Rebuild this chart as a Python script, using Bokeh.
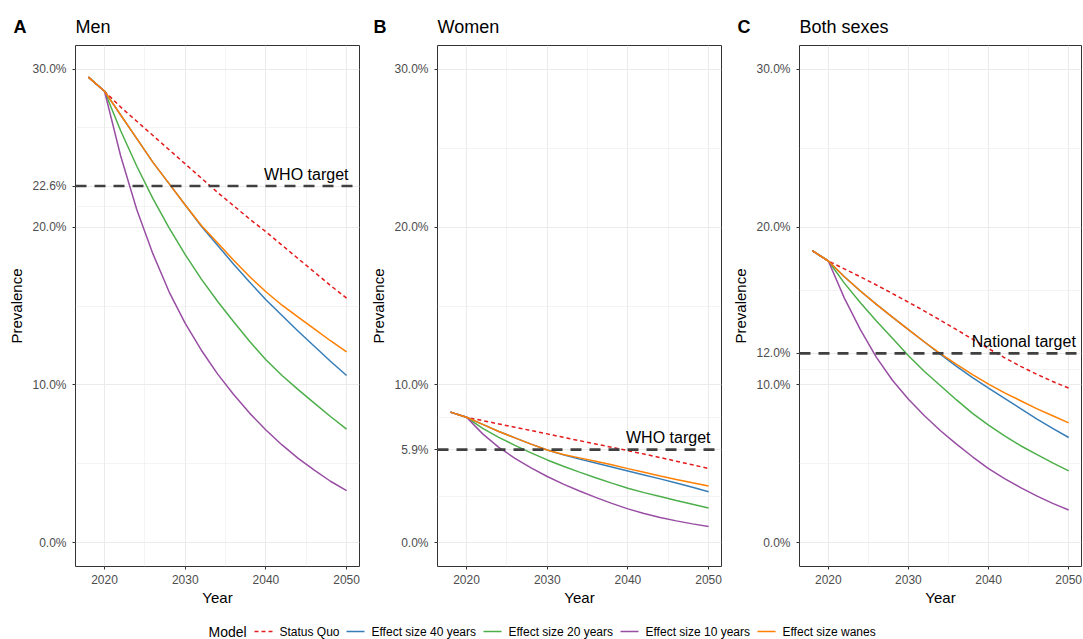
from bokeh.plotting import figure
from bokeh.models import FixedTicker, Span, Label, Range1d
from bokeh.layouts import column, row
from bokeh.embed import file_html
from bokeh.resources import INLINE

# ---------------- data ----------------
years = [2018, 2020, 2022, 2024, 2026, 2028, 2030, 2032, 2034, 2036, 2038, 2040, 2042, 2044, 2046, 2048, 2050]

model_names = ["Status Quo", "Effect size 40 years", "Effect size 20 years", "Effect size 10 years", "Effect size wanes"]

men_status_quo = [29.5, 28.6, 27.6, 26.7, 25.8, 24.9, 24.0, 23.1, 22.2, 21.35, 20.5, 19.7, 18.85, 18.0, 17.15, 16.3, 15.5]
men_40y = [29.5, 28.6, 27.1, 25.6, 24.1, 22.75, 21.4, 20.05, 18.85, 17.65, 16.5, 15.4, 14.4, 13.4, 12.45, 11.5, 10.6]
men_20y = [29.5, 28.6, 26.1, 23.85, 21.8, 19.95, 18.25, 16.7, 15.3, 14.0, 12.75, 11.6, 10.6, 9.7, 8.85, 8.0, 7.2]
men_10y = [29.5, 28.6, 24.5, 21.1, 18.3, 15.9, 13.9, 12.2, 10.7, 9.4, 8.2, 7.15, 6.2, 5.35, 4.6, 3.9, 3.3]
men_wanes = [29.5, 28.6, 27.1, 25.6, 24.1, 22.75, 21.4, 20.1, 19.0, 17.9, 16.85, 15.9, 15.05, 14.3, 13.55, 12.8, 12.1]

women_status_quo = [8.28, 7.95, 7.74, 7.53, 7.32, 7.11, 6.9, 6.68, 6.47, 6.26, 6.05, 5.84, 5.62, 5.4, 5.17, 4.94, 4.71]
women_40y = [8.28, 7.95, 7.5, 7.05, 6.65, 6.25, 5.88, 5.57, 5.3, 5.05, 4.8, 4.55, 4.3, 4.05, 3.79, 3.52, 3.24]
women_20y = [8.28, 7.95, 7.25, 6.68, 6.17, 5.7, 5.25, 4.85, 4.48, 4.12, 3.78, 3.46, 3.18, 2.93, 2.68, 2.44, 2.2]
women_10y = [8.28, 7.95, 6.9, 6.05, 5.35, 4.75, 4.2, 3.72, 3.28, 2.88, 2.5, 2.15, 1.86, 1.6, 1.39, 1.2, 1.03]
women_wanes = [8.28, 7.95, 7.5, 7.05, 6.65, 6.25, 5.88, 5.6, 5.38, 5.16, 4.94, 4.7, 4.47, 4.23, 4.01, 3.8, 3.6]

both_status_quo = [18.5, 17.85, 17.35, 16.85, 16.33, 15.79, 15.24, 14.68, 14.1, 13.5, 12.9, 12.3, 11.72, 11.18, 10.68, 10.22, 9.8]
both_40y = [18.5, 17.85, 16.85, 15.95, 15.1, 14.3, 13.5, 12.72, 11.93, 11.18, 10.47, 9.8, 9.15, 8.5, 7.85, 7.25, 6.67]
both_20y = [18.5, 17.85, 16.45, 15.2, 14.05, 12.95, 11.85, 10.85, 9.95, 9.05, 8.2, 7.45, 6.77, 6.15, 5.6, 5.06, 4.56]
both_10y = [18.5, 17.85, 15.5, 13.5, 11.75, 10.3, 9.1, 8.05, 7.1, 6.25, 5.45, 4.7, 4.07, 3.5, 2.97, 2.5, 2.08]
both_wanes = [18.5, 17.85, 16.85, 15.95, 15.1, 14.3, 13.5, 12.72, 11.98, 11.3, 10.65, 10.05, 9.5, 9.0, 8.5, 8.05, 7.6]

targets = [22.6, 5.9, 12.0]
target_labels = ["WHO target", "WHO target", "National target"]
target_label_years = [2045.0, 2045.0, 2044.4]
panel_letters = ["A", "B", "C"]
panel_titles = ["Men", "Women", "Both sexes"]
x_ticks = [2020, 2030, 2040, 2050]
x_minor = [2025, 2035, 2045]
y_base_ticks = [0, 10, 20, 30]

# ---------------- style ----------------
FONT = "Liberation Sans"
colors = ["#E41A1C", "#377EB8", "#4DAF4A", "#984EA3", "#FF7F00"]
dashes = ["4 3", "solid", "solid", "solid", "solid"]

panels = [
    [men_status_quo, men_40y, men_20y, men_10y, men_wanes],
    [women_status_quo, women_40y, women_20y, women_10y, women_wanes],
    [both_status_quo, both_40y, both_20y, both_10y, both_wanes],
]

# (left border, frame width, right border)
geom = [(75, 284, 6), (72, 284, 6), (72, 282, 2)]
HEADER_H = 43
TOP_B, FRAME_H, BOT_B = 2, 521, 44
LEGEND_H = 29
TOTAL_W = sum(a + b + c for a, b, c in geom)


def pct(v):
    return f"{v:.1f}%"


def make_panel(i):
    bl, fw, br = geom[i]
    p = figure(frame_width=fw, frame_height=FRAME_H,
               min_border_left=bl, min_border_right=br,
               min_border_top=TOP_B, min_border_bottom=BOT_B,
               x_range=Range1d(2016.4, 2051.6), y_range=Range1d(-1.5, 31.5),
               output_backend="svg", toolbar_location=None)
    p.background_fill_color = "white"
    p.border_fill_color = "white"
    p.outline_line_color = "#333333"
    p.outline_line_width = 1

    t = targets[i]
    yt = sorted(y_base_ticks + [t])
    ymin = [(a + b) / 2 for a, b in zip(yt[:-1], yt[1:])]
    p.yaxis.ticker = FixedTicker(ticks=yt, minor_ticks=ymin)
    p.yaxis.major_label_overrides = {v: pct(v) for v in yt}
    p.xaxis.ticker = FixedTicker(ticks=x_ticks, minor_ticks=x_minor)

    for ax in (p.xaxis[0], p.yaxis[0]):
        ax.axis_line_color = None
        ax.major_tick_line_color = "#333333"
        ax.major_tick_out = 3
        ax.major_tick_in = 0
        ax.minor_tick_line_color = None
        ax.major_label_text_color = "#4D4D4D"
        ax.major_label_text_font = FONT
        ax.major_label_text_font_size = "12px"
        ax.axis_label_text_font = FONT
        ax.axis_label_text_font_size = "15px"
        ax.axis_label_text_font_style = "normal"
        ax.axis_label_text_color = "black"
    p.xaxis.axis_label = "Year"
    p.yaxis.axis_label = "Prevalence"
    p.xaxis.major_label_standoff = 4
    p.xaxis.axis_label_standoff = 2
    p.yaxis.major_label_standoff = 5
    p.yaxis.axis_label_standoff = 4

    for g in (p.xgrid[0], p.ygrid[0]):
        g.grid_line_color = "#EBEBEB"
        g.grid_line_width = 1.1
        g.minor_grid_line_color = "#EBEBEB"
        g.minor_grid_line_width = 0.55

    data = panels[i]
    for k, ser in enumerate(data):
        p.line(years, ser, line_color=colors[k], line_width=1.5, line_dash=dashes[k])

    p.add_layout(Span(location=t, dimension="width", line_color="#404040",
                      line_width=2.6, line_dash="11 8"))
    p.add_layout(Label(x=target_label_years[i], y=t + 0.75, text=target_labels[i],
                       text_align="center", text_baseline="middle",
                       text_font=FONT, text_font_size="16px", text_color="black"))
    return p


figs = [make_panel(i) for i in range(3)]


def blank_fig(w, h):
    f = figure(frame_width=w, frame_height=h, min_border=0,
               x_range=Range1d(0, w), y_range=Range1d(0, h),
               output_backend="svg", toolbar_location=None)
    f.axis.visible = False
    f.grid.visible = False
    f.outline_line_color = None
    f.background_fill_color = "white"
    f.border_fill_color = "white"
    return f


# ---------------- header (panel tags and titles) ----------------
header = blank_fig(TOTAL_W, HEADER_H)
letter_x = [13, 373, 737]
title_x = [75, 437, 799]
hy = HEADER_H - 26.5
header.text(x=letter_x, y=[hy] * 3, text=panel_letters, text_font={"value": FONT},
            text_font_size="18px", text_font_style="bold", text_baseline="middle",
            text_align="left", text_color="black")
header.text(x=title_x, y=[hy] * 3, text=panel_titles, text_font={"value": FONT},
            text_font_size="18px", text_baseline="middle",
            text_align="left", text_color="black")

# ---------------- legend ----------------
leg = blank_fig(TOTAL_W, LEGEND_H)
legend_title_x = [208]
legend_key_x = [254, 346, 483, 620, 757]
legend_label_x = [279, 371, 508, 645, 782]
ly = 8
leg.text(x=legend_title_x, y=[ly], text=["Model"], text_font={"value": FONT},
         text_font_size="14px", text_baseline="middle", text_align="left", text_color="black")
for k in range(5):
    leg.line([legend_key_x[k], legend_key_x[k] + 18], [ly, ly], line_color=colors[k],
             line_width=1.5, line_dash=dashes[k])
leg.text(x=legend_label_x, y=[ly] * 5, text=model_names, text_font={"value": FONT},
         text_font_size="12px", text_baseline="middle", text_align="left", text_color="black")

layout = column(header, row(*figs), leg)
open("out.html", "w").write(file_html(layout, INLINE))
